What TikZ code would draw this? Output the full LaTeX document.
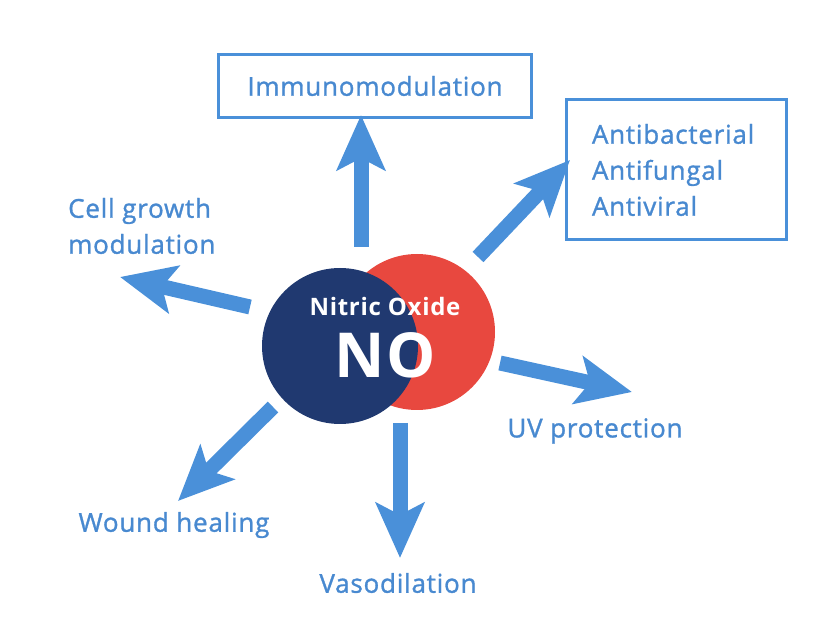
\documentclass[tikz,border=0pt]{standalone}
\usepackage{fontspec}
\setmainfont{Open Sans}[LetterSpace=3, FakeBold=1.2, BoldFeatures={FakeBold=0}]
\usepackage{tikz}
\usetikzlibrary{arrows.meta,shapes}

\definecolor{arrowblue}{RGB}{74,144,217}
\definecolor{textblue}{RGB}{72,137,208}
\definecolor{nodark}{RGB}{32,57,112}
\definecolor{nored}{RGB}{232,72,63}

\begin{document}
\begin{tikzpicture}
		[
		x=1pt, y=-1pt,
		effect/.style = {line width=15pt, arrowblue, -{Stealth[length=55pt, width=48pt, inset=12pt]}},
		label/.style = {textblue, font=\fontsize{26}{36}\selectfont, inner sep=0pt},
		box/.style = {draw=arrowblue, line width=3pt},
		disc/.style = {circle, minimum size=156pt, inner sep=0pt}
		]
		\useasboundingbox (0,0) rectangle (820,628);
		
		% the two overlapping discs
		\node[disc, fill=nored] (red) at (417,332) {};
		\node[disc, fill=nodark] (dark) at (340,346) {};
		\node[white, font=\bfseries\fontsize{24}{28}\selectfont] (name) at (385,307) {Nitric Oxide};
		\node[white, font=\bfseries\fontsize{62}{70}\selectfont, inner sep=0pt] (no) at (385,355) {NO};
		
		% effects
		\node[label, box, minimum width=313pt, minimum height=63pt] (immuno) at (375,86) {Immunomodulation};
		\node[label, box, align=left, text width=168pt, inner xsep=26pt, minimum height=140pt] (anti) at (676,170) {Antibacterial\\Antifungal\\Antiviral};
		\node[label, align=left, anchor=west] (cell) at (68,226) {Cell growth\\modulation};
		\node[label] (uv) at (595,431) {UV protection};
		\node[label] (wound) at (174,525) {Wound healing};
		\node[label] (vaso) at (398,583) {Vasodilation};
		
		\coordinate (up s) at (361,247);   \coordinate (up t) at (361,115);
		\coordinate (ur s) at (478,257);   \coordinate (ur t) at (570,160);
		\coordinate (lf s) at (250,307);   \coordinate (lf t) at (120,277);
		\coordinate (rt s) at (500,363);   \coordinate (rt t) at (632,392);
		\coordinate (dl s) at (273,407);   \coordinate (dl t) at (178,501);
		\coordinate (dn s) at (400,423);   \coordinate (dn t) at (400,558);
		
		\foreach \a in {up,ur,lf,rt,dl,dn}
			\draw[effect] (\a\space s) -- (\a\space t);
		
\end{tikzpicture}
\end{document}
